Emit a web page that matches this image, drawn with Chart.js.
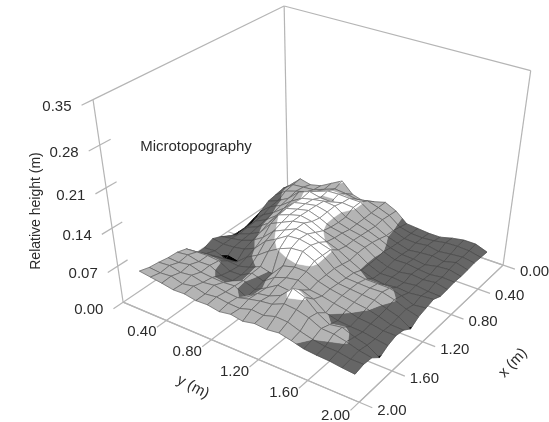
<!DOCTYPE html>
<html>
<head>
<meta charset="utf-8">
<style>
  html, body { margin: 0; padding: 0; background: #fff; }
  /* the reference is a soft scan */
  #chart { display: block; filter: blur(0.4px); }
</style>
<script src="https://cdn.jsdelivr.net/npm/chart.js@4/dist/chart.umd.js"></script>
</head>
<body>
<canvas id="chart" width="549" height="422"></canvas>
<script>
// tick labels of the three axes
const xTicks = [0, 0.4, 0.8, 1.2, 1.6, 2];
const yTicks = [0.4, 0.8, 1.2, 1.6, 2];
const zTicks = [0, 0.07, 0.14, 0.21, 0.28, 0.35];

// measuring positions along each side of the plot (m)
const xNodes = [0.1, 0.2, 0.3, 0.4, 0.5, 0.6, 0.7, 0.8, 0.9, 1.0, 1.1, 1.2, 1.3, 1.4, 1.5, 1.6, 1.7, 1.8, 1.9];
const yNodes = [0.1, 0.2, 0.3, 0.4, 0.5, 0.6, 0.7, 0.8, 0.9, 1.0, 1.1, 1.2, 1.3, 1.4, 1.5, 1.6, 1.7, 1.8, 1.9];

// relative height (m), one row per xNodes entry
const heights = [
    [.030, .050, .045, .050, .062, .074, .054, .048, .054, .060, .050, .032, .030, .028, .028, .034, .038, .038, .030],
    [.033, .048, .050, .052, .060, .068, .066, .062, .066, .060, .052, .036, .031, .030, .032, .036, .037, .036, .031],
    [.030, .045, .052, .058, .066, .074, .075, .074, .074, .060, .054, .040, .032, .031, .034, .030, .033, .035, .032],
    [.027, .036, .048, .068, .076, .071, .070, .076, .074, .060, .052, .041, .034, .028, .031, .033, .030, .036, .030],
    [.017, .034, .044, .060, .073, .078, .082, .080, .066, .060, .054, .046, .036, .031, .030, .027, .032, .034, .029],
    [.012, .028, .040, .056, .075, .080, .084, .079, .066, .060, .056, .050, .040, .032, .033, .030, .028, .031, .030],
    [.006, .026, .036, .052, .074, .080, .085, .078, .068, .064, .058, .052, .038, .030, .028, .032, .030, .033, .028],
    [.006, .024, .033, .048, .072, .080, .086, .082, .072, .066, .058, .052, .038, .029, .030, .028, .031, .028, .027],
    [.008, .022, .030, .041, .066, .076, .086, .090, .080, .070, .062, .050, .039, .031, .028, .031, .029, .032, .034],
    [.020, .024, .028, .036, .050, .070, .080, .090, .088, .080, .074, .054, .046, .042, .042, .042, .036, .027, .030],
    [.027, .024, .026, .030, .040, .062, .074, .088, .090, .086, .075, .058, .048, .047, .046, .047, .041, .032, .026],
    [.020, .022, .014, .016, .034, .046, .062, .075, .084, .086, .076, .058, .050, .048, .046, .044, .037, .030, .016],
    [.020, .028, .030, .030, .028, .034, .044, .038, .062, .068, .068, .058, .052, .048, .044, .041, .035, .028, .027],
    [.041, .043, .044, .042, .030, .031, .043, .036, .052, .060, .064, .054, .051, .046, .042, .036, .034, .030, .030],
    [.046, .049, .044, .045, .034, .032, .041, .032, .044, .058, .056, .066, .058, .041, .035, .033, .032, .028, .025],
    [.047, .046, .050, .044, .042, .041, .043, .030, .046, .050, .060, .082, .074, .054, .041, .045, .036, .030, .016],
    [.050, .052, .047, .050, .045, .048, .044, .042, .048, .053, .056, .066, .064, .058, .047, .046, .041, .034, .030],
    [.052, .050, .052, .046, .050, .044, .047, .044, .043, .050, .048, .055, .054, .046, .040, .036, .036, .032, .032],
    [.057, .054, .051, .047, .048, .044, .045, .041, .045, .041, .046, .044, .047, .042, .036, .034, .033, .030, .028]
];

// contour bands of the surface
const bandLevels = [0, .018, .04, .072, 1];
const bandColors = ["#000000", "#666666", "#b4b4b4", "#ffffff"];

const boxColor = "#b5b5b5";
const textColor = "#2b2b2b";
const fontName = '"Liberation Sans", Arial, sans-serif';

// perspective camera, fitted to the corners of the box in the picture
function project(x, y, z) {
    const u = x / 2, v = y / 2, w = z / 0.35;
    const d = 1 - 0.1405 * u - 0.087 * v - 0.1167 * w;
    return {
        x: (287.7 - 181.9 * u + 171.6 * v - 36.7 * w) / d,
        y: (191 + 68.7 * u + 51 * v - 185.7 * w) / d,
    };
}

// keep the part of a polygon above or below a height
function clipPolygon(poly, level, keepAbove) {
    const out = [];
    poly.forEach((p, n) => {
        const q = poly[(n + 1) % poly.length];
        const pIn = keepAbove ? p.z >= level : p.z <= level;
        const qIn = keepAbove ? q.z >= level : q.z <= level;
        if (pIn) out.push(p);
        if (pIn !== qIn) {
            const t = (level - p.z) / (q.z - p.z);
            out.push({ x: p.x + t * (q.x - p.x), y: p.y + t * (q.y - p.y), z: level });
        }
    });
    return out;
}

function toLine(points, color, width) {
    return {
        data: points.map((p) => project(p[0], p[1], p[2])),
        borderColor: color,
        borderWidth: width,
        pointRadius: 0,
        fill: false,
        tension: 0,
    };
}

// datasets are collected from back to front
const layers = [];

// box edges
const zTop = zTicks[zTicks.length - 1];
[
    [[2, 0, 0], [2, 0, zTop]], [[0, 0, 0], [0, 0, zTop]], [[0, 2, 0], [0, 2, zTop]],
    [[2, 0, zTop], [0, 0, zTop]], [[0, 0, zTop], [0, 2, zTop]],
    [[2, 0, 0], [0, 0, 0]], [[0, 0, 0], [0, 2, 0]], [[2, 0, 0], [2, 2, 0]], [[2, 2, 0], [0, 2, 0]],
].forEach((edge) => layers.push(toLine(edge, boxColor, 1.2)));

// floor lines with their tick ends
xTicks.forEach((x) => layers.push(toLine([[x, 0, 0], [x, 2.1, 0]], boxColor, 1.2)));
yTicks.forEach((y) => layers.push(toLine([[0, y, 0], [2.1, y, 0]], boxColor, 1.2)));
// ticks on the height axis
zTicks.forEach((z, n) => {
    const inner = n === 0 || n === zTicks.length - 1 ? 2 : 1.9;
    layers.push(toLine([[2.1, 0, z], [inner, 0, z]], boxColor, 1.2));
});

// surface cells, the far corner first
const cells = [];
for (let i = 0; i < xNodes.length - 1; i++) {
    for (let j = 0; j < yNodes.length - 1; j++) {
        cells.push([i, j]);
    }
}
cells.sort((a, b) => (a[0] + a[1]) - (b[0] + b[1]));

cells.forEach(([i, j]) => {
    const quad = [[i, j], [i + 1, j], [i + 1, j + 1], [i, j + 1]].map(([a, b]) => (
        { x: xNodes[a], y: yNodes[b], z: heights[a][b] }
    ));
    bandColors.forEach((color, n) => {
        const part = clipPolygon(clipPolygon(quad, bandLevels[n], true), bandLevels[n + 1], false);
        if (part.length < 3) return;
        const pts = part.map((p) => project(p.x, p.y, p.z));
        pts.push(pts[0]);
        layers.push({
            data: pts,
            borderColor: color,
            borderWidth: 0.5,
            backgroundColor: color,
            pointRadius: 0,
            fill: "shape",
            tension: 0,
        });
    });
    const outline = quad.concat(quad[0]).map((p) => [p.x, p.y, p.z]);
    layers.push(toLine(outline, "rgba(60, 60, 60, 0.5)", 1));
});

// all the text is written after the datasets
const textPlugin = {
    id: "labels",
    afterDatasetsDraw(chart) {
        const ctx = chart.ctx;
        const sx = chart.scales.x, sy = chart.scales.y;
        const put = (text, px, py, align, size, angle) => {
            ctx.save();
            ctx.translate(sx.getPixelForValue(px), sy.getPixelForValue(py));
            ctx.rotate((angle || 0) * Math.PI / 180);
            ctx.font = size + "px " + fontName;
            ctx.fillStyle = textColor;
            ctx.textAlign = align;
            ctx.textBaseline = "middle";
            ctx.fillText(text, 0, 0);
            ctx.restore();
        };
        zTicks.forEach((z) => {
            const p = project(2.1, 0, z);
            put(z.toFixed(2), p.x - 10, p.y + 1.5, "right", 15);
        });
        yTicks.forEach((y) => {
            const p = project(2.1, y, 0);
            put(y.toFixed(2), p.x - 15, p.y + 5, "center", 15);
        });
        xTicks.forEach((x) => {
            const p = project(x, 2.1, 0);
            put(x.toFixed(2), p.x + 5, p.y + 3, "left", 15);
        });
        put("Relative height (m)", 36, 211, "center", 14, -90);
        put("Microtopography", 196, 147, "center", 15);
        put("x (m)", 513, 363, "center", 15, -47);
        put("y (m)", 193, 387, "center", 15, 28);
    },
};

new Chart(document.getElementById("chart"), {
    type: "line",
    // the first dataset is painted last, so the list is reversed
    data: { datasets: layers.reverse() },
    options: {
        responsive: false,
        animation: false,
        layout: { padding: 0 },
        plugins: { legend: { display: false }, tooltip: { enabled: false } },
        scales: {
            x: { type: "linear", display: false, min: 0, max: 549 },
            y: { type: "linear", display: false, min: 0, max: 422, reverse: true },
        },
    },
    plugins: [textPlugin],
});
</script>
</body>
</html>
